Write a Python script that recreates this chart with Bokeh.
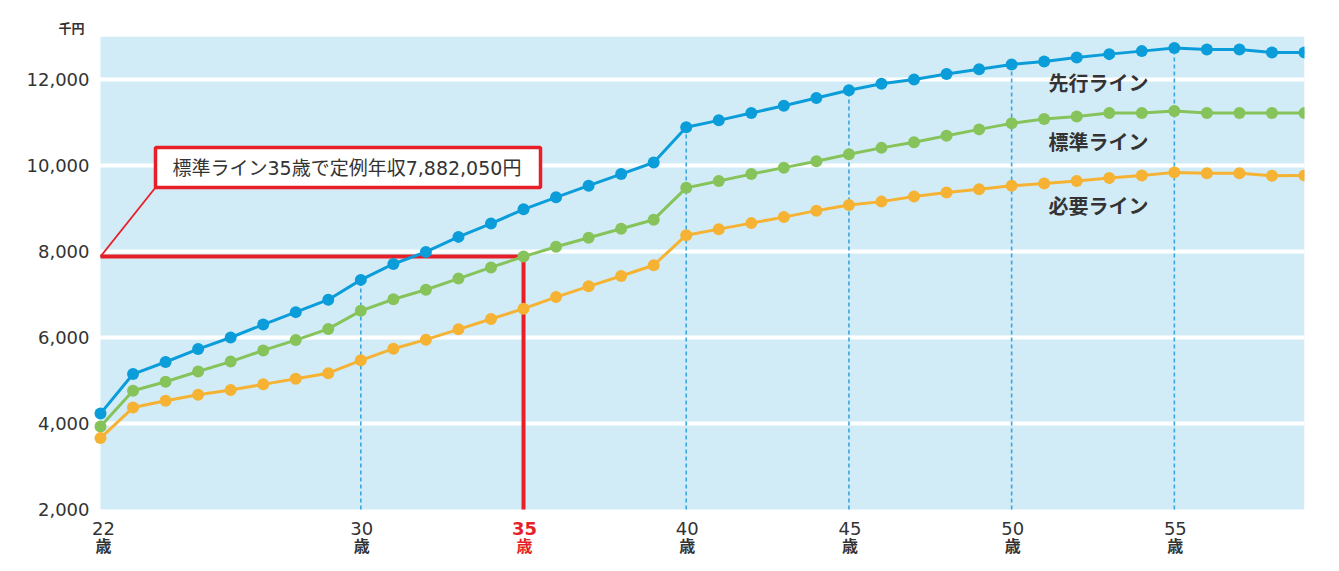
from bokeh.plotting import figure
from bokeh.models import Range1d, FixedTicker, BoxAnnotation, Label, NumeralTickFormatter
from bokeh.embed import file_html
from bokeh.resources import INLINE

# ---------------- data ----------------
ages = list(range(22, 60))
senko = [4230, 5150, 5430, 5730, 6000, 6300, 6590, 6880, 7340, 7710,
         7990, 8340, 8650, 8980, 9260, 9530, 9800, 10070, 10890, 11050,
         11220, 11390, 11570, 11750, 11900, 12000, 12130, 12240, 12350, 12420,
         12510, 12590, 12660, 12730, 12700, 12700, 12630, 12630]
hyojun = [3930, 4760, 4970, 5210, 5440, 5700, 5940, 6200, 6620, 6890,
          7110, 7370, 7630, 7882, 8110, 8320, 8530, 8740, 9480, 9640,
          9800, 9950, 10100, 10260, 10410, 10540, 10690, 10840, 10980, 11080,
          11140, 11220, 11220, 11270, 11220, 11220, 11220, 11220]
hitsuyo = [3660, 4370, 4530, 4670, 4780, 4910, 5040, 5170, 5470, 5740,
           5950, 6190, 6430, 6670, 6940, 7190, 7430, 7680, 8380, 8520,
           8660, 8800, 8950, 9080, 9160, 9280, 9370, 9450, 9530, 9580,
           9640, 9710, 9770, 9840, 9820, 9820, 9760, 9770]
series_names = ["先行ライン", "標準ライン", "必要ライン"]
series_colors = ["#0a9dd9", "#86c35a", "#f5b233"]
y_ticks = [2000, 4000, 6000, 8000, 10000, 12000]
x_ticks = [22, 30, 35, 40, 45, 50, 55]
age_unit = "歳"
guide_ages = [30, 40, 45, 50, 55]
highlight_age = 35
highlight_text = "標準ライン35歳で定例年収7,882,050円"
unit_label = "千円"

# ---------------- layout helpers ----------------
W, H = 1323, 555
X0, X1, Y0, Y1 = 22, 59, 2000, 13000
PL, PT, PW, PH = 108, 44, 1204, 473    # blue plot area on the page (8px body margin)
PX_PER_X = PW / (X1 - X0)
PX_PER_Y = PH / (Y1 - Y0)
FRAME_L = 99                            # frame starts a bit left of the plot area
X_LOW = X0 - (PL - FRAME_L) / PX_PER_X
FRAME_H = H - (PT - 8)                  # frame reaches the canvas bottom (room for x labels)
Y_LOW = Y1 - FRAME_H / PX_PER_Y


def xpx(page_x):
    return X0 + (page_x - PL) / PX_PER_X


def ypx(page_y):
    return Y0 + (PT + PH - page_y) / PX_PER_Y


FONT = "DejaVu Sans, Noto Sans CJK JP"
JFONT = "Noto Sans CJK JP"
TXT = "#333333"
RED = "#e61f29"

p = figure(width=W, height=H, output_backend="svg", toolbar_location=None,
           x_range=Range1d(X_LOW, X1), y_range=Range1d(Y_LOW, Y1),
           min_border_left=FRAME_L - 8, min_border_right=W - (PL - 8) - PW,
           min_border_top=PT - 8, min_border_bottom=0)
p.border_fill_color = "white"
p.background_fill_color = "white"
p.outline_line_color = None

# unit label as the title, in the top-left corner
p.title.text = unit_label
p.title.align = "left"
p.title.offset = 66 - FRAME_L
p.title.standoff = 0
p.title.text_font = JFONT
p.title.text_font_size = "13px"
p.title.text_font_style = "bold"
p.title.text_color = TXT

# plot-area background
p.add_layout(BoxAnnotation(left=X0, bottom=Y0, fill_color="#d2ecf7", fill_alpha=1,
                           line_color=None, level="image"))

# axes
p.xaxis.visible = False
p.xgrid.visible = False
yax = p.yaxis[0]
yax.ticker = FixedTicker(ticks=y_ticks)
yax.formatter = NumeralTickFormatter(format="0,0")
yax.axis_line_color = None
yax.major_tick_line_color = None
yax.minor_tick_line_color = None
yax.major_tick_out = 0
yax.major_tick_in = 0
yax.major_label_standoff = 2
yax.major_label_text_font = FONT
yax.major_label_text_font_size = "18px"
yax.major_label_text_color = TXT
p.ygrid.ticker = FixedTicker(ticks=y_ticks[1:])
p.ygrid.bounds = (X0, X1)
p.ygrid.grid_line_color = "white"
p.ygrid.grid_line_width = 4

# dashed guide lines up to the leading line
guide_tops = [senko[ages.index(a)] for a in guide_ages]
p.segment(x0=guide_ages, y0=[Y0] * len(guide_ages), x1=guide_ages, y1=guide_tops,
          line_color="#3aa6de", line_width=1.6, line_dash="4 3")

# highlight (standard line at 35)
hv = hyojun[ages.index(highlight_age)]
box_l, box_r, box_t, box_b = xpx(163), xpx(548), ypx(155), ypx(195)
p.segment(x0=[X0, highlight_age], y0=[hv, Y0], x1=[highlight_age, highlight_age], y1=[hv, hv],
          line_color=RED, line_width=4)
p.segment(x0=[X0], y0=[hv], x1=[box_l], y1=[box_b], line_color=RED, line_width=1.8)
p.add_layout(BoxAnnotation(left=box_l, right=box_r, top=box_t, bottom=box_b,
                           fill_color="white", fill_alpha=1, line_color=RED,
                           line_alpha=1, line_width=3.5))
p.add_layout(Label(x=xpx(180), y=ypx(175), text=highlight_text, text_font=FONT,
                   text_font_size="19px", text_color=TXT, text_align="left",
                   text_baseline="middle"))

# series
for vals, col in zip([senko, hyojun, hitsuyo], series_colors):
    p.line(ages, vals, line_color=col, line_width=3)
    p.scatter(ages, vals, size=12, fill_color=col, line_color=None)

# series labels
label_pos = [(1106, 90), (1106, 149), (1106, 213)]
for name, (lx, ly) in zip(series_names, label_pos):
    p.add_layout(Label(x=xpx(lx), y=ypx(ly), text=name, text_font=JFONT,
                       text_font_size="20px", text_color=TXT, text_align="center",
                       text_baseline="middle", text_font_style="bold"))

# x tick labels (two lines) under the plot area
for a in x_ticks:
    col = RED if a == highlight_age else TXT
    dx = 3 if a == X0 else 1
    p.add_layout(Label(x=a, y=ypx(536), x_offset=dx, text=str(a), text_font=FONT,
                       text_font_size="18px", text_color=col, text_align="center",
                       text_baseline="middle",
                       text_font_style="bold" if a == highlight_age else "normal"))
    p.add_layout(Label(x=a, y=ypx(552), x_offset=dx, text=age_unit, text_font=JFONT,
                       text_font_size="16px", text_color=col, text_align="center",
                       text_baseline="middle", text_font_style="bold"))

open("out.html", "w").write(file_html(p, INLINE))
